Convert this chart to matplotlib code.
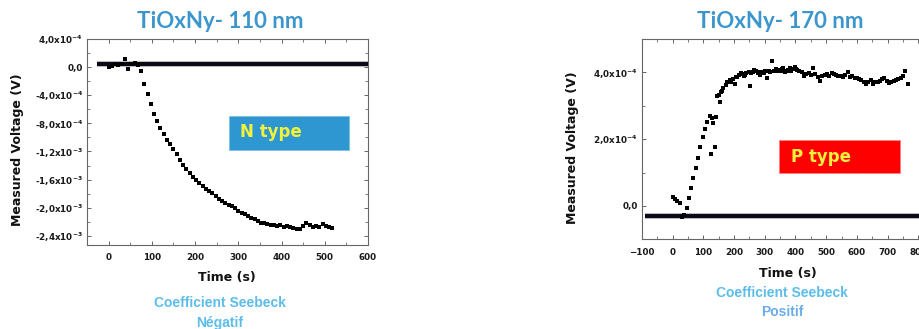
import numpy as np
import matplotlib
matplotlib.use("Agg")
import matplotlib.pyplot as plt
from matplotlib.ticker import FixedLocator, FixedFormatter, MultipleLocator
from matplotlib.patches import Rectangle

plt.rcParams['font.family'] = ['DejaVu Sans']
plt.rcParams['mathtext.default'] = 'bf'

# --- data (voltage in units of 1e-4 V) ---
t_110 = [0, 7.5, 15, 22.5, 30, 37.5, 45, 52.5, 60, 67.5,
         75, 82.5, 90, 97.5, 105, 112.5, 120, 127.5, 135, 142.5,
         150, 157.5, 165, 172.5, 180, 187.5, 195, 202.5, 210, 217.5,
         225, 232.5, 240, 247.5, 255, 262.5, 270, 277.5, 285, 292.5,
         300, 307.5, 315, 322.5, 330, 337.5, 345, 352.5, 360, 367.5,
         375, 382.5, 390, 397.5, 405, 412.5, 420, 427.5, 435, 442.5,
         450, 457.5, 465, 472.5, 480, 487.5, 495, 502.5, 510, 517.5]
v_110 = [0.0, 0.2, 0.4, 0.3, 0.5, 1.2, -0.3, 0.5, 0.6, 0.3,
         -0.6, -2.4, -3.8, -5.2, -6.6, -7.7, -8.6, -9.5, -10.3, -11.0,
         -11.7, -12.4, -13.2, -13.9, -14.5, -15.1, -15.6, -16.1, -16.5, -16.9,
         -17.3, -17.6, -17.9, -18.3, -18.7, -19.0, -19.3, -19.6, -19.8, -20.1,
         -20.4, -20.7, -20.9, -21.2, -21.4, -21.6, -21.9, -22.1, -22.2, -22.3,
         -22.4, -22.4, -22.6, -22.5, -22.7, -22.6, -22.8, -22.9, -23.0, -23.0,
         -22.6, -22.1, -22.5, -22.8, -22.6, -22.7, -22.3, -22.6, -22.7, -22.9]

t_170 = [0, 7.5, 15, 22.5, 30, 37.5, 45, 52.5, 60, 67.5,
         75, 82.5, 90, 97.5, 105, 112.5, 120, 125, 127.5, 132,
         137, 141, 145, 150, 154, 157.5, 161, 165, 172.5, 176,
         180, 187.5, 191, 195, 202.5, 206, 210, 217.5, 221, 225,
         232.5, 236, 240, 247.5, 252, 256, 262.5, 266, 270, 277.5,
         281, 285, 292.5, 296, 300, 307.5, 315, 318, 322.5, 330,
         337.5, 341, 345, 352.5, 356, 360, 367.5, 371, 375, 382.5,
         386, 390, 397.5, 401, 405, 412.5, 420, 427.5, 435, 442.5,
         450, 457.5, 465, 472.5, 480, 487.5, 495, 502.5, 510, 517.5,
         525, 532.5, 540, 547.5, 555, 562.5, 570, 577.5, 585, 592.5,
         600, 607.5, 615, 622.5, 630, 637.5, 645, 652.5, 660, 667.5,
         675, 682.5, 690, 697.5, 705, 712.5, 720, 727.5, 735, 742.5,
         750, 757.5, 765]
v_170 = [0.26, 0.20, 0.15, 0.10, -0.33, -0.27, -0.06, 0.25, 0.55, 0.85,
         1.15, 1.45, 1.75, 2.05, 2.30, 2.50, 2.70, 1.55, 2.62, 2.49,
         1.76, 2.66, 3.29, 3.32, 3.10, 3.40, 3.45, 3.52, 3.62, 3.70,
         3.72, 3.76, 3.72, 3.80, 3.64, 3.86, 3.85, 3.92, 3.98, 3.95,
         3.88, 3.93, 3.98, 4.00, 3.59, 3.97, 4.02, 4.08, 4.04, 3.98,
         4.00, 3.93, 4.02, 3.97, 4.03, 3.83, 4.05, 4.00, 4.35, 4.05,
         4.10, 4.05, 4.08, 4.05, 4.10, 4.13, 4.00, 4.03, 4.08, 4.13,
         4.05, 4.10, 4.15, 4.10, 4.08, 4.05, 4.00, 3.88, 3.95, 3.98,
         3.92, 4.13, 3.95, 3.85, 3.75, 3.90, 3.93, 3.95, 3.90, 3.98,
         3.95, 3.93, 3.90, 3.88, 3.85, 3.92, 4.00, 3.85, 3.88, 3.84,
         3.83, 3.80, 3.78, 3.72, 3.64, 3.70, 3.78, 3.66, 3.70, 3.72,
         3.75, 3.80, 3.83, 3.75, 3.69, 3.72, 3.74, 3.78, 3.80, 3.83,
         3.88, 4.03, 3.64]

baseline_110 = 0.5   # thick reference line, 1e-4 V
baseline_170 = -0.3

yticks_110 = [4, 0, -4, -8, -12, -16, -20, -24]
ylabels_110 = ['4,0x10$^{-4}$', '0,0', '-4,0x10$^{-4}$', '-8,0x10$^{-4}$',
               '-1,2x10$^{-3}$', '-1,6x10$^{-3}$', '-2,0x10$^{-3}$', '-2,4x10$^{-3}$']
yticks_170 = [0, 2, 4]
ylabels_170 = ['0,0', '2,0x10$^{-4}$', '4,0x10$^{-4}$']

title_col = '#3C96CE'
sub_col = '#5CBDEA'

fig = plt.figure(figsize=(9.2, 3.29), dpi=100)
W, H = 920, 329


def axes_px(x0, y0, x1, y1):
    return fig.add_axes([x0 / W, 1 - y1 / H, (x1 - x0) / W, (y1 - y0) / H])


def style(ax):
    for s in ax.spines.values():
        s.set_color('#666666')
        s.set_linewidth(0.8)
    ax.tick_params(which='both', direction='in', top=True, right=True,
                   colors='#666666', labelcolor='#1a1a1a', labelsize=6.3)
    ax.tick_params(which='major', length=3, width=0.7)
    ax.tick_params(which='minor', length=2, width=0.6)
    ax.tick_params(axis='x', pad=6)
    ax.tick_params(axis='y', pad=3)
    for lab in ax.get_xticklabels() + ax.get_yticklabels():
        lab.set_fontweight('bold')


# ---- left panel: 110 nm ----
ax1 = axes_px(87, 39, 368, 245)
ax1.hlines(baseline_110, -28, 600, color='#9a9aa0', lw=4.4, alpha=0.5, zorder=2)
ax1.hlines(baseline_110, -28, 600, color='#0b0b18', lw=3.0, zorder=3)
ax1.plot(t_110, v_110, 's', color='black', ms=2.7, mew=0, zorder=4)
ax1.set_xlim(-50, 600)
ax1.set_ylim(-25.3, 4)
ax1.xaxis.set_major_locator(FixedLocator([0, 100, 200, 300, 400, 500, 600]))
ax1.xaxis.set_minor_locator(MultipleLocator(50))
ax1.yaxis.set_major_locator(FixedLocator(yticks_110))
ax1.yaxis.set_major_formatter(FixedFormatter(ylabels_110))
ax1.yaxis.set_minor_locator(MultipleLocator(2))
style(ax1)
ax1.add_patch(Rectangle((0.505, 0.461), 0.427, 0.167, transform=ax1.transAxes,
                        facecolor='#2E96D0', edgecolor='#7cc0e6', lw=0.6, zorder=5))
ax1.text(0.545, 0.548, 'N type', transform=ax1.transAxes, color='#F2F23C',
         fontsize=12, fontweight='bold', va='center', ha='left', zorder=6)

# ---- right panel: 170 nm ----
ax2 = axes_px(642, 39, 933.6, 239.3)
ax2.hlines(baseline_170, -90, 850, color='#9a9aa0', lw=4.4, alpha=0.5, zorder=2)
ax2.hlines(baseline_170, -90, 850, color='#0b0b18', lw=3.0, zorder=3)
ax2.plot(t_170, v_170, 's', color='black', ms=2.7, mew=0, zorder=4)
ax2.set_xlim(-100, 850)
ax2.set_ylim(-1, 5)
ax2.xaxis.set_major_locator(FixedLocator([-100, 0, 100, 200, 300, 400, 500, 600, 700, 800]))
ax2.xaxis.set_minor_locator(MultipleLocator(50))
ax2.yaxis.set_major_locator(FixedLocator(yticks_170))
ax2.yaxis.set_major_formatter(FixedFormatter(ylabels_170))
ax2.yaxis.set_minor_locator(MultipleLocator(1))
style(ax2)
ax2.add_patch(Rectangle((0.47, 0.33), 0.415, 0.166, transform=ax2.transAxes,
                        facecolor='#FF0000', edgecolor='#ff8080', lw=0.6, zorder=5))
ax2.text(0.51, 0.41, 'P type', transform=ax2.transAxes, color='#F2F23C',
         fontsize=12, fontweight='bold', va='center', ha='left', zorder=6)

# ---- labels ----
lab_kw = dict(fontsize=9, fontweight='bold', color='#111111')
fig.text(227 / W, 1 - 277 / H, 'Time (s)', ha='center', va='center', **lab_kw)
fig.text(788 / W, 1 - 274 / H, 'Time (s)', ha='center', va='center', **lab_kw)
fig.text(18 / W, 1 - 150 / H, 'Measured Voltage (V)', rotation=90,
         ha='center', va='center', **lab_kw)
fig.text(573 / W, 1 - 148 / H, 'Measured Voltage (V)', rotation=90,
         ha='center', va='center', **lab_kw)

title_kw = dict(family=['Lato', 'DejaVu Sans'], fontsize=16, fontweight='bold',
                color=title_col, ha='center', va='center')
fig.text(220 / W, 1 - 22 / H, 'TiOxNy- 110 nm', **title_kw)
fig.text(780 / W, 1 - 22 / H, 'TiOxNy- 170 nm', **title_kw)

sub_kw = dict(family=['Liberation Sans', 'DejaVu Sans'], fontsize=10,
              fontweight='bold', ha='center', va='center')
fig.text(220 / W, 1 - 303 / H, 'Coefficient Seebeck', color=sub_col, **sub_kw)
fig.text(220 / W, 1 - 323 / H, 'Négatif', color=sub_col, **sub_kw)
fig.text(782 / W, 1 - 293 / H, 'Coefficient Seebeck', color=sub_col, **sub_kw)
fig.text(782 / W, 1 - 312 / H, 'Positif', color='#68ACEA', **sub_kw)

fig.savefig('out.png', dpi=100, facecolor='white')
